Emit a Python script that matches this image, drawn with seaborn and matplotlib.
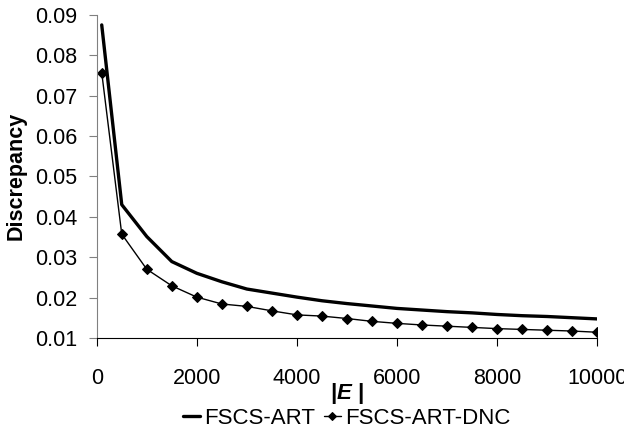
import matplotlib
matplotlib.use('Agg')
import matplotlib.pyplot as plt
import numpy as np
import pandas as pd
import seaborn as sns

#%% data
sizes = [100, 500, 1000, 1500, 2000, 2500, 3000, 3500, 4000, 4500, 5000,
         5500, 6000, 6500, 7000, 7500, 8000, 8500, 9000, 9500, 10000]
fscs_art = [0.0875, 0.0430, 0.0351, 0.0289, 0.0260, 0.0239, 0.0221, 0.0211,
            0.0201, 0.0192, 0.0185, 0.0179, 0.0173, 0.0169, 0.0165, 0.0162,
            0.0158, 0.0155, 0.0153, 0.0150, 0.0147]
fscs_art_dnc = [0.0757, 0.0357, 0.0270, 0.0229, 0.0201, 0.0184, 0.0178, 0.0167,
                0.0157, 0.0154, 0.0148, 0.0141, 0.0136, 0.0132, 0.0129, 0.0126,
                0.0123, 0.0121, 0.0119, 0.0117, 0.0114]

df = pd.DataFrame({'size': sizes, 'FSCS-ART': fscs_art, 'FSCS-ART-DNC': fscs_art_dnc})

#%% style
sns.set_style('ticks')
plt.rcParams['font.family'] = ['Liberation Sans', 'DejaVu Sans']
plt.rcParams['mathtext.fontset'] = 'custom'
plt.rcParams['mathtext.bfit'] = 'Liberation Sans:bold:italic'
plt.rcParams['mathtext.rm'] = 'Liberation Sans:bold'
plt.rcParams['text.color'] = 'black'
plt.rcParams['axes.labelcolor'] = 'black'
plt.rcParams['xtick.labelcolor'] = 'black'
plt.rcParams['ytick.labelcolor'] = 'black'

fig, ax = plt.subplots(figsize=(6.24, 4.36), dpi=100)
fig.subplots_adjust(left=0.155, right=0.957, top=0.966, bottom=0.225)

sns.lineplot(x='size', y='FSCS-ART', data=df, color='black', linewidth=2.4,
             label='FSCS-ART', ax=ax)
sns.lineplot(x='size', y='FSCS-ART-DNC', data=df, color='black', linewidth=1,
             marker='D', markersize=5, markeredgecolor='black',
             label='FSCS-ART-DNC', ax=ax)

ax.set(xlim=(0, 10000), ylim=(0.01, 0.09))
ax.set_xticks([0, 2000, 4000, 6000, 8000, 10000])
ax.set_yticks([0.01, 0.02, 0.03, 0.04, 0.05, 0.06, 0.07, 0.08, 0.09])
ax.set_yticklabels(['0.01', '0.02', '0.03', '0.04', '0.05', '0.06', '0.07', '0.08', '0.09'])
ax.tick_params(axis='x', labelsize=15.5, length=6, pad=16, color='black', labelcolor='black')
ax.tick_params(axis='y', labelsize=15.5, length=6, pad=8, color='#808080', labelcolor='black')
sns.despine(ax=ax)
ax.spines['left'].set_color('#808080')
ax.spines['bottom'].set_color('black')

ax.set_ylabel('Discrepancy', fontsize=15.5, fontweight='bold', labelpad=6, color='black')
ax.set_xlabel(r'|$\mathbfit{E}$ |', fontsize=16, fontweight='bold', labelpad=-6, color='black')

handles, labels = ax.get_legend_handles_labels()
ax.get_legend().remove()
leg = fig.legend(handles, labels, loc='center', bbox_to_anchor=(0.555, 0.04), ncol=2,
                 frameon=False, fontsize=16, handlelength=0.8, handletextpad=0.15,
                 columnspacing=0.4, markerscale=0.8)
for t in leg.get_texts():
    t.set_color('black')

fig.savefig('out.png', dpi=100)
